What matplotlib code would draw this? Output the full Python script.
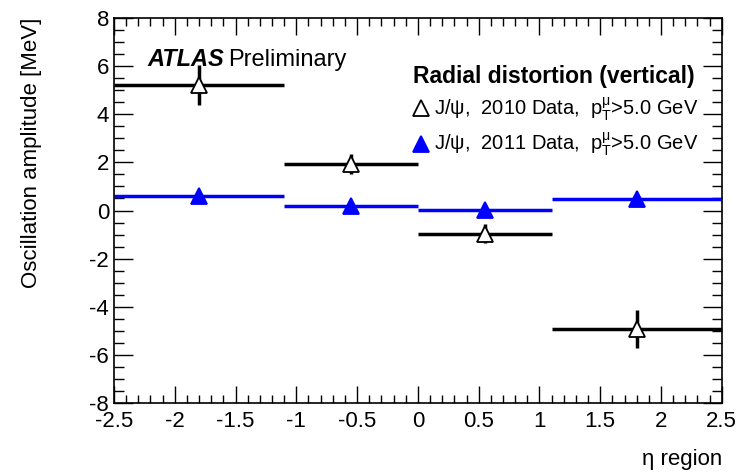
import matplotlib.pyplot as plt
from matplotlib.ticker import MultipleLocator
import numpy as np

plt.rcParams['font.family'] = ['Liberation Sans', 'DejaVu Sans']
plt.rcParams['mathtext.fontset'] = 'custom'
plt.rcParams['mathtext.rm'] = 'Liberation Sans'
plt.rcParams['mathtext.it'] = 'Liberation Sans'

# eta bins and oscillation amplitudes
bin_lo = [-2.5, -1.1, 0.0, 1.1]
bin_hi = [-1.1, 0.0, 1.1, 2.5]
x_pts = [-1.8, -0.55, 0.55, 1.8]
amp_2010 = [5.22, 1.92, -0.96, -4.92]
err_2010 = [0.83, 0.42, 0.40, 0.80]
amp_2011 = [0.62, 0.20, 0.02, 0.48]
err_2011 = [0.15, 0.12, 0.10, 0.15]

fig = plt.figure(figsize=(7.38, 4.72), dpi=100)
ax = fig.add_axes([0.1545, 0.146, 0.8235, 0.816])

def draw(vals, errs, color, face, label):
    for lo, hi, v in zip(bin_lo, bin_hi, vals):
        ax.plot([lo, hi], [v, v], color=color, lw=2.5, solid_capstyle='butt', zorder=2)
    ax.errorbar(x_pts, vals, yerr=errs, fmt='none', ecolor=color, elinewidth=2.5, zorder=2)
    ax.plot(x_pts, vals, ls='none', marker='^', ms=11, mfc=face, mec=color, mew=1.3, zorder=3)
    return ax.plot([], [], ls='none', marker='^', ms=11, mfc=face, mec=color, mew=1.3, label=label)[0]

draw(amp_2010, err_2010, 'black', 'white', 'J/ψ,  2010 Data,  p$_{\\rm T}^{\\mu}$>5.0 GeV')
draw(amp_2011, err_2011, 'blue', 'blue', 'J/ψ,  2011 Data,  p$_{\\rm T}^{\\mu}$>5.0 GeV')

ax.set_xlim(-2.5, 2.5)
ax.set_ylim(-8, 8)
ax.xaxis.set_minor_locator(MultipleLocator(0.1))
ax.yaxis.set_minor_locator(MultipleLocator(0.5))
ax.set_xticks(np.arange(-2.5, 2.51, 0.5))
ax.set_xticklabels(['-2.5', '-2', '-1.5', '-1', '-0.5', '0', '0.5', '1', '1.5', '2', '2.5'])
ax.set_yticks(np.arange(-8, 8.1, 2))
ax.set_yticklabels(['-8', '-6', '-4', '-2', '0', '2', '4', '6', '8'])
ax.tick_params(which='both', direction='in', top=True, right=True, labelsize=16, width=1)
ax.tick_params(which='major', length=14)
ax.tick_params(which='minor', length=7)
ax.tick_params(axis='x', which='major', length=12, pad=6)
ax.tick_params(axis='x', which='minor', length=6)
for s in ax.spines.values():
    s.set_linewidth(1.2)

ax.set_xlabel('η region', fontsize=16, loc='right', labelpad=12)
ax.set_ylabel('Oscillation amplitude [MeV]', fontsize=16, loc='top', labelpad=34)

ax.text(0.055, 0.874, 'ATLAS', transform=ax.transAxes, fontsize=17, fontweight='bold',
        fontstyle='italic')
ax.text(0.188, 0.874, 'Preliminary', transform=ax.transAxes, fontsize=17)

ax.text(0.492, 0.83, 'Radial distortion (vertical)', transform=ax.transAxes,
        fontsize=16.5, fontweight='bold')
handles, labels = ax.get_legend_handles_labels()
leg = ax.legend(handles, labels, loc='upper left', bbox_to_anchor=(0.462, 0.835),
                frameon=False, fontsize=14.5, handletextpad=0.0, handlelength=1.25,
                labelspacing=0.4, borderpad=0.2)

fig.savefig('out.png', dpi=100)
